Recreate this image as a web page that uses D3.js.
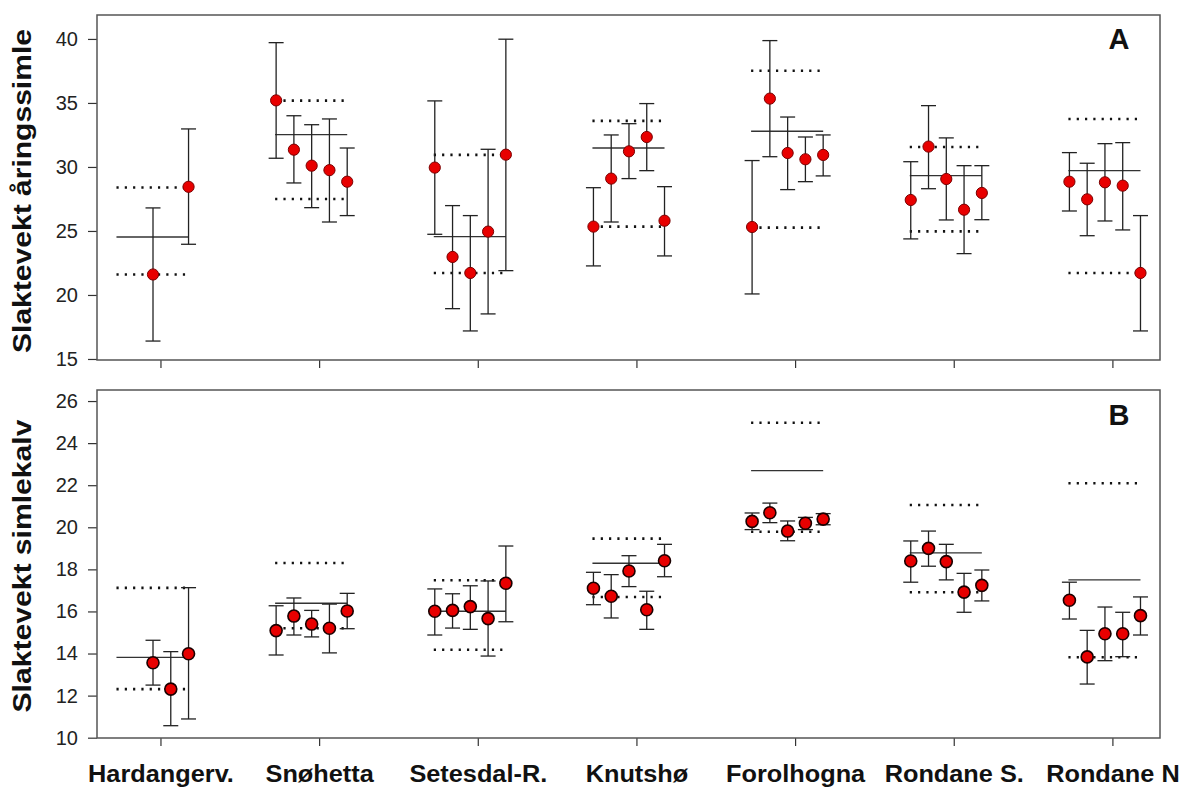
<!DOCTYPE html>
<html>
<head>
<meta charset="utf-8">
<script src="https://cdn.jsdelivr.net/npm/d3@7"></script>
<style>
    html, body { margin: 0; padding: 0; background: white; }
    svg { display: block; font-family: Arial, "Liberation Sans", Helvetica, sans-serif; }
</style>
</head>
<body>
<svg id="chart" width="1184" height="787"></svg>
<script>
// two stacked panels, 7 areas, up to 5 years each
var regions = ["Hardangerv.", "Snøhetta", "Setesdal-R.", "Knutshø", "Forolhogna", "Rondane S.", "Rondane N"];
// where each year sits inside an area (category units from the tick)
var slotOffsets = [-0.271, -0.159, -0.047, 0.065, 0.177];

// panel A, slaktevekt åringssimle
var ticksA = [15, 20, 25, 30, 35, 40];
var meanA = [
    [null, null, 21.6, null, 28.45],
    [35.2, 31.35, 30.1, 29.75, 28.85],
    [29.95, 22.97, 21.72, 24.95, 30.96],
    [25.34, 29.09, 31.22, 32.34, 25.8],
    [25.31, 35.34, 31.09, 30.6, 30.94],
    [27.42, 31.59, 29.06, 26.66, 27.97],
    [28.85, 27.47, 28.8, 28.54, 21.72]
];
var hiA = [
    [null, null, 26.8, null, 32.97],
    [39.71, 34.0, 33.3, 33.75, 31.48],
    [35.16, 26.98, 26.2, 31.38, 39.98],
    [28.38, 32.5, 33.38, 34.95, 28.46],
    [30.5, 39.87, 33.9, 32.34, 32.5],
    [30.41, 34.79, 32.27, 30.1, 30.1],
    [31.12, 30.29, 31.82, 31.9, 26.2]
];
var loA = [
    [null, null, 16.4, null, 23.96],
    [30.68, 28.75, 26.82, 25.7, 26.2],
    [24.74, 18.93, 17.19, 18.52, 21.9],
    [22.27, 25.7, 29.09, 29.71, 23.05],
    [20.08, 30.8, 28.23, 28.85, 29.3],
    [24.38, 28.3, 25.86, 23.23, 25.88],
    [26.56, 24.63, 25.78, 25.08, 17.19]
];
var levelA = [24.53, 32.52, 24.56, 31.48, 32.79, 29.32, 29.71];
var dotHiA = [28.4, 35.18, 30.94, 33.6, 37.52, 31.56, 33.75];
var dotLoA = [21.6, 27.5, 21.72, 25.34, 25.26, 24.97, 21.72];

// panel B, slaktevekt simlekalv
var ticksB = [10, 12, 14, 16, 18, 20, 22, 24, 26];
var meanB = [
    [null, null, 13.56, 12.31, 13.99],
    [15.09, 15.78, 15.4, 15.2, 16.02],
    [16.01, 16.05, 16.23, 15.66, 17.34],
    [17.1, 16.72, 17.92, 16.08, 18.41],
    [20.28, 20.69, 19.82, 20.19, 20.39],
    [18.4, 19.0, 18.37, 16.92, 17.24],
    [16.53, 13.84, 14.94, 14.94, 15.8]
];
var hiB = [
    [null, null, 14.63, 14.09, 17.13],
    [16.27, 16.64, 16.05, 16.35, 16.86],
    [17.07, 16.84, 17.22, 17.45, 19.11],
    [17.86, 17.75, 18.65, 16.96, 19.19],
    [20.68, 21.15, 20.3, 20.47, 20.65],
    [19.35, 19.82, 19.19, 17.81, 17.97],
    [17.39, 15.1, 16.21, 15.96, 16.69]
];
var loB = [
    [null, null, 12.5, 10.57, 10.89],
    [13.93, 14.88, 14.79, 14.03, 15.18],
    [14.88, 15.21, 15.15, 13.88, 15.51],
    [16.32, 15.69, 17.18, 15.15, 17.65],
    [19.89, 20.22, 19.36, 19.89, 20.12],
    [17.39, 18.15, 17.5, 15.96, 16.5],
    [15.64, 12.55, 13.66, 13.85, 14.88]
];
var levelB = [13.82, 16.39, 16.01, 18.29, 22.69, 18.78, 17.5];
var dotHiB = [17.12, 18.3, 17.48, 19.46, 24.97, 21.06, 22.09];
var dotLoB = [12.31, 15.2, 14.18, 16.69, 19.79, 16.91, 13.82];

var svg = d3.select("#chart");
var left = 97, right = 1160;
var x = d3.scaleLinear().domain([-0.4, 6.3]).range([left, right]);

function drawPanel(opt) {
    var y = d3.scaleLinear().domain(opt.domain).range([opt.bottom, opt.top]);
    var g = svg.append("g");

    // y axis, frame draws the spine
    var ya = g.append("g")
        .attr("transform", "translate(" + left + ",0)")
        .call(d3.axisLeft(y).tickValues(opt.ticks).tickSize(9).tickPadding(10));
    ya.select(".domain").remove();
    ya.selectAll("line").attr("stroke", "#333").attr("stroke-width", 1.2);
    ya.selectAll("text").attr("font-size", 20).attr("fill", "#222")
        .attr("font-family", "Arial, 'Liberation Sans', sans-serif");

    var xa = g.append("g")
        .attr("transform", "translate(0," + opt.bottom + ")")
        .call(d3.axisBottom(x).tickValues(d3.range(regions.length)).tickSize(8)
            .tickFormat(function (d) { return opt.labels ? regions[d] : ""; }));
    xa.select(".domain").remove();
    xa.selectAll("line").attr("stroke", "#333").attr("stroke-width", 1.2);
    if (opt.labels) {
        xa.selectAll("text")
            .attr("font-size", 23).attr("font-weight", "bold").attr("fill", "#111")
            .attr("font-family", "Arial, 'Liberation Sans', sans-serif")
            .attr("y", 28)
            .each(function () {
                // reference letters run a bit wide
                var w = this.getComputedTextLength();
                d3.select(this).attr("textLength", w * 1.1).attr("lengthAdjust", "spacingAndGlyphs");
            });
    }

    g.append("rect")
        .attr("x", left).attr("y", opt.top)
        .attr("width", right - left).attr("height", opt.bottom - opt.top)
        .attr("fill", "none").attr("stroke", "#555").attr("stroke-width", 1.5);

    // axis title
    g.append("text")
        .attr("transform", "translate(31," + opt.titleY + ") rotate(-90)")
        .attr("text-anchor", "middle")
        .attr("font-size", 26).attr("font-weight", "bold").attr("fill", "#111")
        .attr("textLength", opt.titleLen).attr("lengthAdjust", "spacingAndGlyphs")
        .text(opt.title);

    g.append("text")
        .attr("x", 1119).attr("y", opt.letterY)
        .attr("text-anchor", "middle")
        .attr("font-size", 29).attr("font-weight", "bold").attr("fill", "#111")
        .text(opt.letter);

    var x0 = function (i) { return x(i + slotOffsets[0]); };
    var x1 = function (i) { return x(i + slotOffsets[4]); };

    // dotted reference levels
    [opt.dotHi, opt.dotLo].forEach(function (arr) {
        g.selectAll(null).data(arr).enter().append("line")
            .attr("x1", function (d, i) { return x0(i) - 1; })
            .attr("x2", function (d, i) { return x1(i) - 2; })
            .attr("y1", function (d) { return y(d); })
            .attr("y2", function (d) { return y(d); })
            .attr("stroke", "#111").attr("stroke-width", 2.6)
            .attr("stroke-dasharray", "2.2,6.1");
    });

    // solid level line
    g.selectAll(null).data(opt.level).enter().append("line")
        .attr("x1", function (d, i) { return x0(i) - 1; })
        .attr("x2", function (d, i) { return x1(i); })
        .attr("y1", function (d) { return y(d); })
        .attr("y2", function (d) { return y(d); })
        .attr("stroke", "#333").attr("stroke-width", 1.3);

    // flatten into points
    var pts = [];
    opt.mean.forEach(function (row, i) {
        row.forEach(function (v, k) {
            if (v != null) pts.push({ px: x(i + slotOffsets[k]), v: v, hi: opt.hi[i][k], lo: opt.lo[i][k] });
        });
    });

    var bars = g.selectAll(null).data(pts).enter().append("g")
        .attr("stroke", "#222").attr("stroke-width", 1.3);
    bars.append("line")
        .attr("x1", function (d) { return d.px; }).attr("x2", function (d) { return d.px; })
        .attr("y1", function (d) { return y(d.hi); }).attr("y2", function (d) { return y(d.lo); });
    bars.append("line")
        .attr("x1", function (d) { return d.px - 7.5; }).attr("x2", function (d) { return d.px + 7.5; })
        .attr("y1", function (d) { return y(d.hi); }).attr("y2", function (d) { return y(d.hi); });
    bars.append("line")
        .attr("x1", function (d) { return d.px - 7.5; }).attr("x2", function (d) { return d.px + 7.5; })
        .attr("y1", function (d) { return y(d.lo); }).attr("y2", function (d) { return y(d.lo); });

    g.selectAll(null).data(pts).enter().append("circle")
        .attr("cx", function (d) { return d.px; })
        .attr("cy", function (d) { return y(d.v); })
        .attr("r", opt.r)
        .attr("fill", "#e80000")
        .attr("stroke", opt.ring).attr("stroke-width", opt.ringW);
}

drawPanel({
    top: 15, bottom: 360, domain: [14.92, 41.87], ticks: ticksA,
    mean: meanA, hi: hiA, lo: loA, level: levelA, dotHi: dotHiA, dotLo: dotLoA,
    title: "Slaktevekt åringssimle", titleY: 191, titleLen: 324,
    letter: "A", letterY: 49, labels: false, r: 5.6, ring: "#7a0000", ringW: 1
});
drawPanel({
    top: 390, bottom: 738, domain: [9.985, 26.525], ticks: ticksB,
    mean: meanB, hi: hiB, lo: loB, level: levelB, dotHi: dotHiB, dotLo: dotLoB,
    title: "Slaktevekt simlekalv", titleY: 566, titleLen: 293,
    letter: "B", letterY: 425, labels: true, r: 6, ring: "#1a0000", ringW: 1.6
});
</script>
</body>
</html>
